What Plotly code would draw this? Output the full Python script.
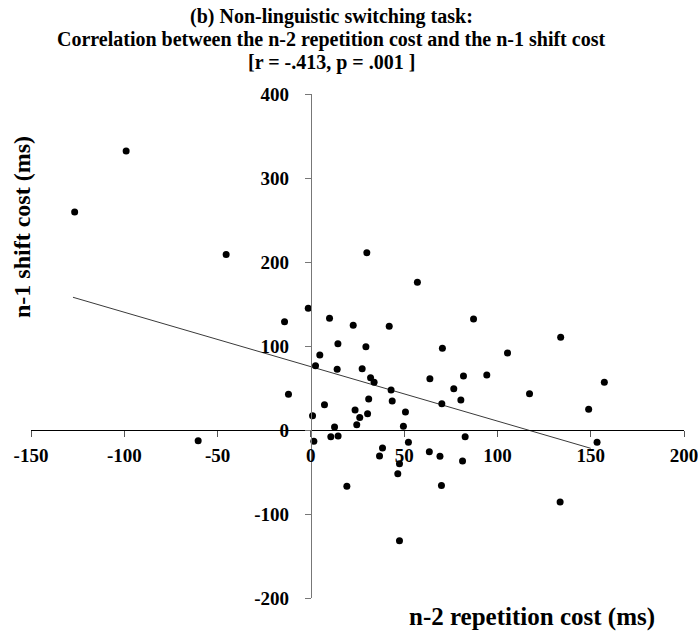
import plotly.graph_objects as go

# ---- data ----
n2_repetition_cost = [
    -126.6, -99.0, -45.4, -60.4, -14.1, -1.4, -12.0, 30.0, 57.1, 10.0,
    22.7, 42.0, 14.5, 29.5, 4.8, 2.5, 14.1, 27.5, 32.0, 33.9,
    63.8, 43.0, 31.0, 43.6, 7.3, 23.7, 50.7, 0.9, 30.4, 26.2,
    24.6, 49.6, 12.7, 87.2, 133.9, 70.5, 105.4, 81.8, 94.3, 76.6,
    70.2, 80.4, 117.2, 157.3, 148.9, 52.3, 82.7, 153.4, 38.4, 63.5,
    69.2, 81.3, 1.6, 10.7, 14.6, 36.8, 47.5, 46.6, 19.3, 70.0,
    47.5, 133.6,
]
n1_shift_cost = [
    259.5, 332.0, 209.0, -12.7, 129.0, 145.0, 42.5, 211.0, 176.0, 133.0,
    124.6, 123.4, 102.8, 99.2, 89.3, 76.6, 72.2, 73.0, 62.3, 56.8,
    61.0, 47.6, 36.9, 34.5, 30.2, 23.8, 21.4, 17.0, 19.4, 15.0,
    6.3, 4.4, 3.5, 132.0, 110.3, 97.2, 91.7, 64.3, 65.5, 49.2,
    31.3, 35.7, 43.3, 56.8, 24.6, -14.7, -7.9, -14.7, -21.5, -25.8,
    -31.2, -37.0, -13.5, -7.9, -7.1, -31.0, -40.1, -52.0, -67.0, -66.0,
    -131.7, -85.7,
]
trend_x = [-127.5, 150.0]
trend_y = [158.0, -21.8]

x_ticks = [-150, -100, -50, 0, 50, 100, 150, 200]
y_ticks = [-200, -100, 0, 100, 200, 300, 400]
x_range = [-150, 200]
y_range = [-200, 400]

title_lines = [
    "(b) Non-linguistic switching task:",
    "Correlation between the n-2 repetition cost and the n-1 shift cost",
    "[r = -.413, p = .001 ]",
]
x_title = "n-2 repetition cost (ms)"
y_title = "n-1 shift cost (ms)"

# ---- layout geometry ----
W, H = 698, 634
ML, MR, MT, MB = 31, 14, 94, 36
PW, PH = W - ML - MR, H - MT - MB


def px_x(px):
    return (px - ML) / PW


def px_y(py):
    return (H - MB - py) / PH


SERIF = "Liberation Serif, Times New Roman, serif"

fig = go.Figure()
fig.add_trace(go.Scatter(
    x=trend_x, y=trend_y, mode="lines",
    line=dict(color="#3a3a3a", width=1), hoverinfo="skip", showlegend=False,
))
fig.add_trace(go.Scatter(
    x=n2_repetition_cost, y=n1_shift_cost, mode="markers",
    marker=dict(color="black", size=7), showlegend=False,
))

x_cross = (0 - y_range[0]) / (y_range[1] - y_range[0])
y_cross = (0 - x_range[0]) / (x_range[1] - x_range[0])

fig.update_layout(
    width=W, height=H,
    margin=dict(l=ML, r=MR, t=MT, b=MB, autoexpand=False),
    paper_bgcolor="white", plot_bgcolor="white",
    font=dict(family=SERIF, color="black"),
    xaxis=dict(
        range=x_range, tickvals=x_ticks, ticktext=[str(v) for v in x_ticks],
        anchor="free", position=x_cross, automargin=False,
        showline=True, linecolor="black", linewidth=1,
        ticks="outside", ticklen=6, tickcolor="#555", tickwidth=1,
        showgrid=False, zeroline=False, ticklabelstandoff=2,
        ticklabeloverflow="allow",
        tickfont=dict(family=SERIF, size=19, weight="bold", color="black"),
    ),
    yaxis=dict(
        range=y_range, tickvals=y_ticks, ticktext=[str(v) for v in y_ticks],
        anchor="free", position=y_cross, automargin=False,
        showline=True, linecolor="#777", linewidth=1,
        ticks="outside", ticklen=6, tickcolor="#777", tickwidth=1,
        showgrid=False, zeroline=False, ticklabelstandoff=12,
        ticklabeloverflow="allow",
        tickfont=dict(family=SERIF, size=19, weight="bold", color="black"),
    ),
)

annotations = []
for text, py in zip(title_lines, [16, 40, 62]):
    annotations.append(dict(
        text=text, xref="paper", yref="paper", x=px_x(331), y=px_y(py),
        xanchor="center", yanchor="middle", showarrow=False,
        font=dict(family=SERIF, size=20, weight="bold", color="black"),
    ))
annotations.append(dict(
    text=x_title, xref="paper", yref="paper", x=px_x(532), y=px_y(617),
    xanchor="center", yanchor="middle", showarrow=False,
    font=dict(family=SERIF, size=25, weight="bold", color="black"),
))
annotations.append(dict(
    text=y_title, xref="paper", yref="paper", x=px_x(22), y=px_y(227),
    xanchor="center", yanchor="middle", showarrow=False, textangle=-90,
    font=dict(family=SERIF, size=24, weight="bold", color="black"),
))
fig.update_layout(annotations=annotations)

fig.write_html(
    "out.html",
    config={"displayModeBar": False},
    post_script="document.body.style.margin='0';document.body.style.overflow='hidden';",
)
